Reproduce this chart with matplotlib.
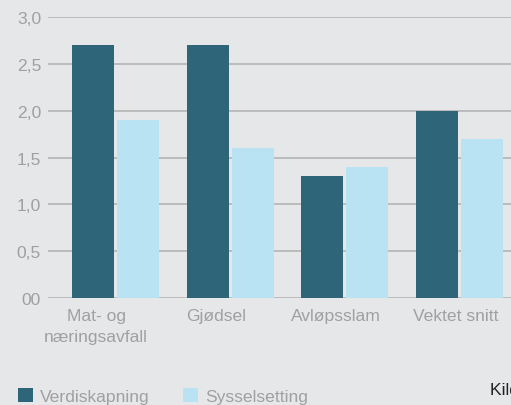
import matplotlib.pyplot as plt
import numpy as np

plt.rcParams['font.family'] = ['Liberation Sans', 'DejaVu Sans']

categories = ["Mat- og\nnæringsavfall", "Gjødsel", "Avløpsslam", "Vektet snitt"]
verdiskapning = [2.7, 2.7, 1.3, 2.0]
sysselsetting = [1.9, 1.6, 1.4, 1.7]
y_ticks = [0.0, 0.5, 1.0, 1.5, 2.0, 2.5, 3.0]
y_labels = ["00", "0,5", "1,0", "1,5", "2,0", "2,5", "3,0"]

bg = '#e6e7e9'
dark = '#2e6579'
light = '#b9e2f2'
grey = '#a0a0a0'
fs = 12.6

fig = plt.figure(figsize=(5.11, 4.06), dpi=100, facecolor=bg)
ax = fig.add_axes([0.094, 0.2635, 0.906, 0.692], facecolor=bg)

x = np.arange(len(categories))
w = 0.366
ax.bar(x - 0.196, verdiskapning, w, color=dark, zorder=3, label="Verdiskapning")
ax.bar(x + 0.196, sysselsetting, w, color=light, zorder=3, label="Sysselsetting")

ax.set_xlim(-0.589, 3.448)
ax.set_ylim(0, 3.0)
ax.set_yticks(y_ticks)
ax.set_yticklabels(y_labels)
for t in y_ticks:
    ax.axhline(t, color='#b8b8b8', lw=1.3, zorder=1)

# labels sit a bit left of the group centres in the original
label_shift = [-0.17, -0.12, -0.08, -0.03]
ax.set_xticks(x + np.array(label_shift))
ax.set_xticklabels(categories, linespacing=1.55)

for s in ax.spines.values():
    s.set_visible(False)
ax.tick_params(axis='both', length=0, colors=grey, labelsize=fs)
ax.tick_params(axis='y', pad=5)
ax.tick_params(axis='x', pad=7)

leg = fig.legend(loc='lower left', bbox_to_anchor=(0.005, -0.036), ncol=2, frameon=False,
                 fontsize=fs, handlelength=0.85, handleheight=0.85, handletextpad=0.4,
                 columnspacing=1.9)
for t in leg.get_texts():
    t.set_color(grey)

fig.text(0.958, 0.02, "Kilde: ", fontsize=fs, color='#222222', ha='left', va='bottom')

fig.savefig('out.png', dpi=100, facecolor=bg)
